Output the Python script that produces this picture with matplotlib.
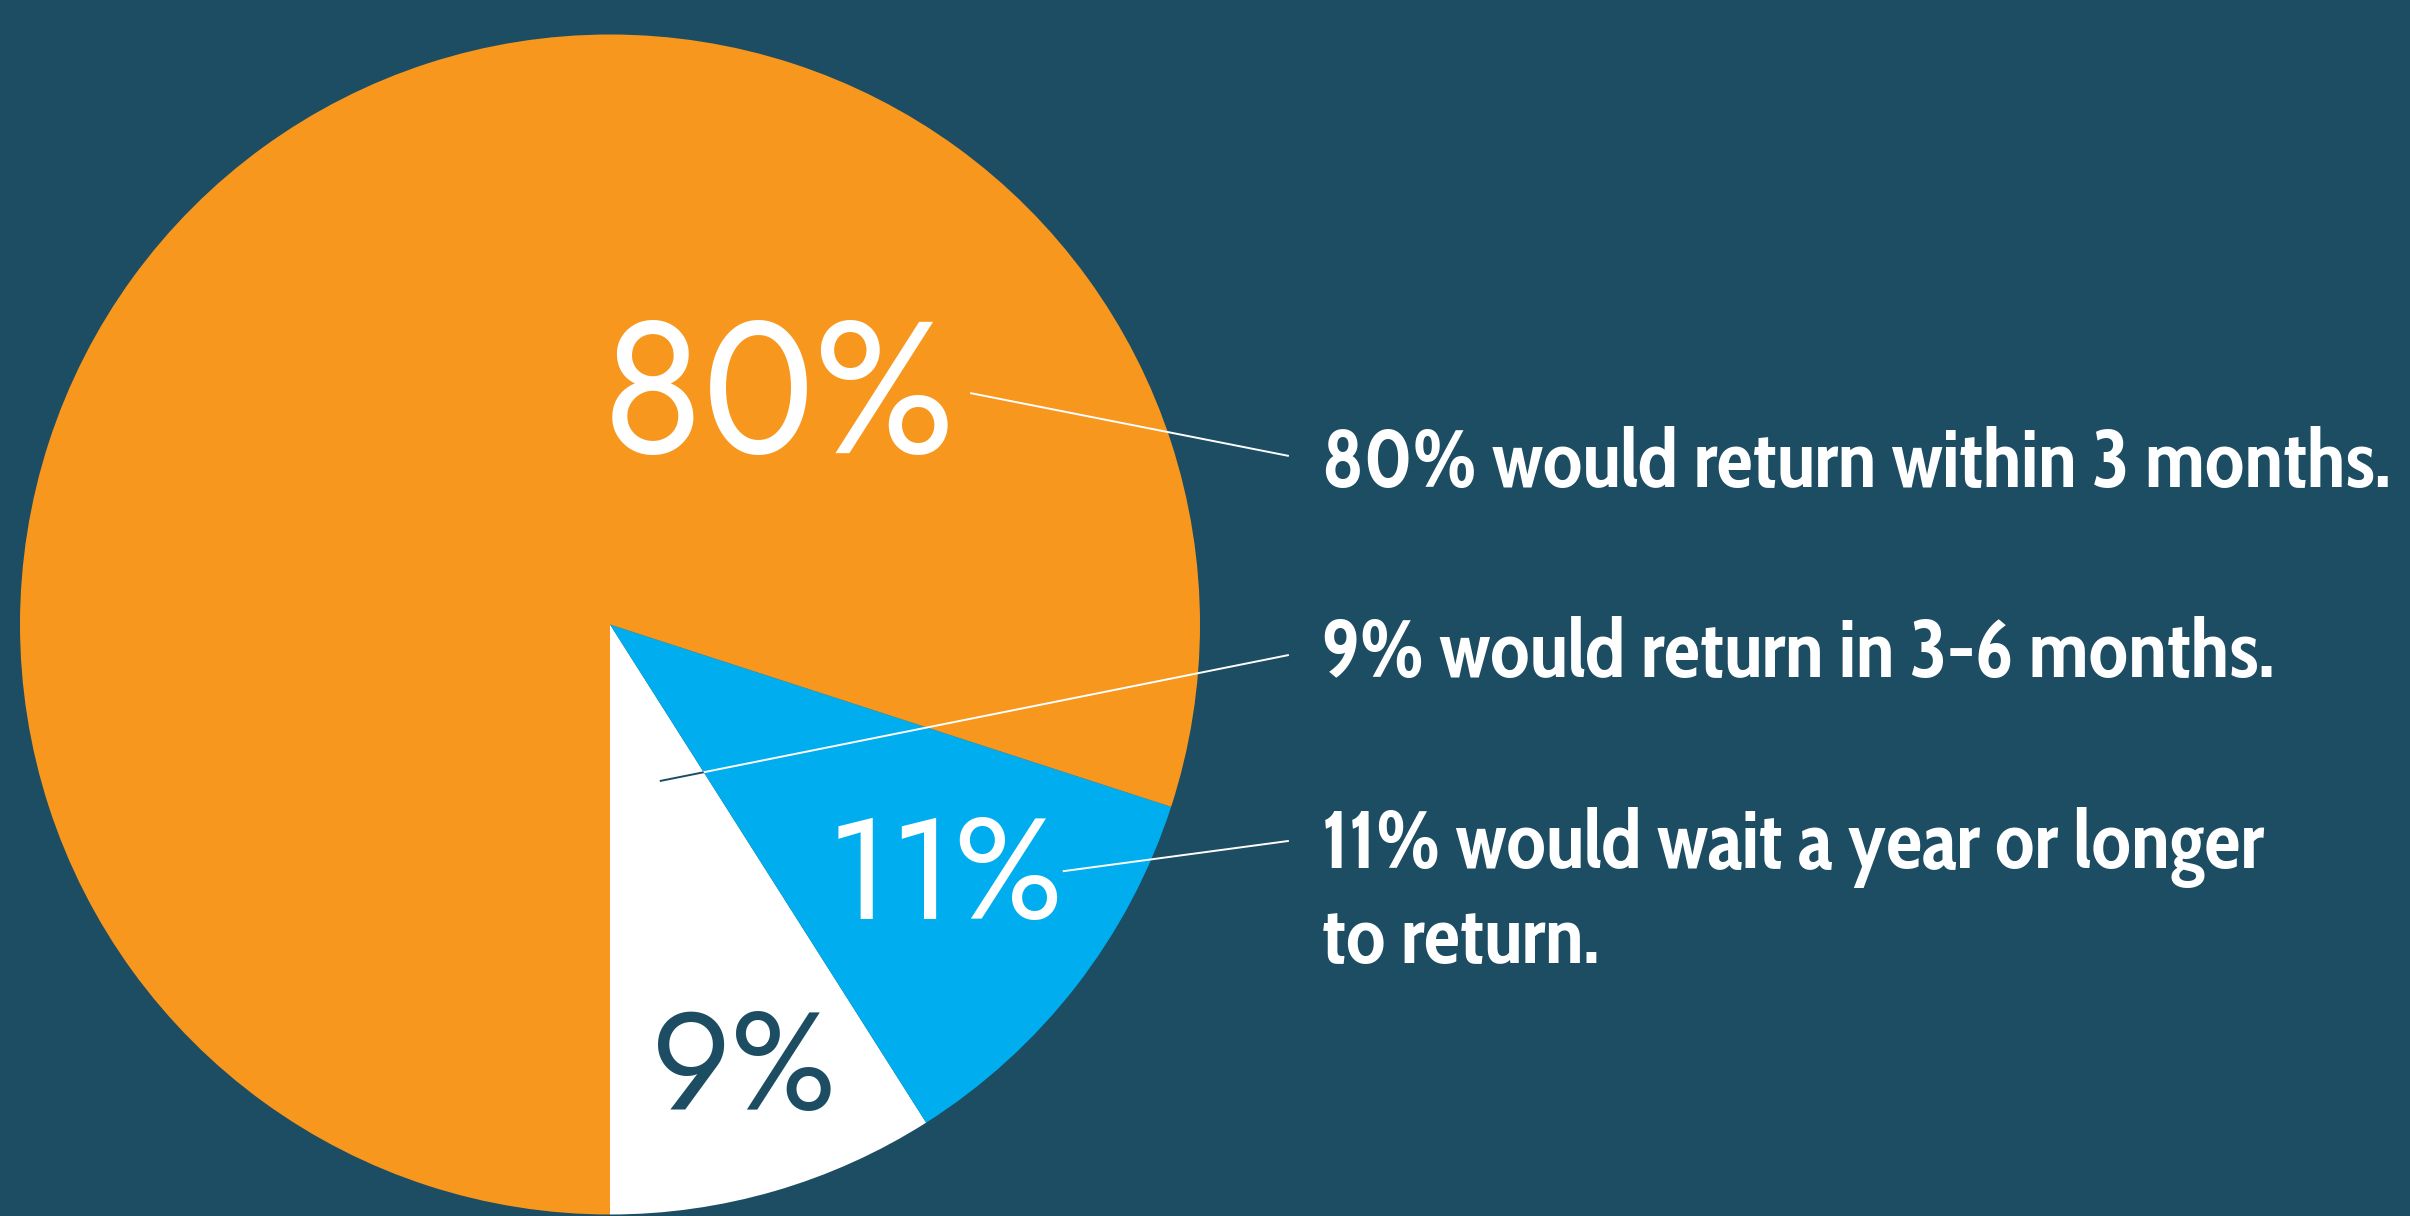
import matplotlib.pyplot as plt

# data
slice_labels = ['9%', '11%', '80%']
slice_values = [9, 11, 80]
descriptions = ['80% would return within 3 months.',
                '9% would return in 3-6 months.',
                '11% would wait a year or longer',
                'to return.']

BG = '#1d4d63'
ORANGE = '#f7971e'
BLUE = '#00aeef'
WHITE = '#ffffff'

BIG_FONT = ['Jost', 'DejaVu Sans']
SIDE_FONT = ['Cabin Condensed', 'DejaVu Sans']

W, H = 2410, 1216
fig = plt.figure(figsize=(W / 100, H / 100), dpi=100, facecolor=BG)

# pie centre at (610, 624) px, radius 590 px
cx, cy, r = 610, 624.5, 590
ax = fig.add_axes([(cx - r) / W, (H - cy - r) / H, 2 * r / W, 2 * r / H])
ax.set_facecolor(BG)
wedges, _ = ax.pie(slice_values, colors=[WHITE, BLUE, ORANGE], startangle=-90,
                   counterclock=True, radius=1,
                   wedgeprops=dict(linewidth=0))
ax.set_xlim(-1, 1)
ax.set_ylim(-1, 1)
ax.axis('off')

# big percentages inside the slices
ax.text(0.286, 0.380, slice_labels[2], color=WHITE, fontsize=134,
        family=BIG_FONT, ha='center', va='center')
ax.text(0.568, -0.432, slice_labels[1], color=WHITE, fontsize=103,
        family=BIG_FONT, ha='center', va='center')
ax.text(0.225, -0.757, slice_labels[0], color=BG, fontsize=100,
        family=BIG_FONT, ha='center', va='center')

# leader lines (dark where they cross the white slice)
lw = 1.4
leaders = [([0.612, 1.149], [0.392, 0.286]),
           ([0.086, 1.149], [-0.265, -0.052]),
           ([0.769, 1.149], [-0.418, -0.367])]
for xs, ys in leaders:
    ax.plot(xs, ys, color=WHITE, lw=lw, clip_on=False)
    dark, = ax.plot(xs, ys, color=BG, lw=lw)
    dark.set_clip_path(wedges[0])

# descriptions on the right
tx = 1.207
for txt, yb in zip(descriptions, [0.233, -0.089, -0.412, -0.573]):
    ax.text(tx, yb, txt, color=WHITE, fontsize=58, family=SIDE_FONT,
            fontweight='bold', ha='left', va='baseline', clip_on=False)

fig.savefig('out.png', dpi=100, facecolor=BG)
